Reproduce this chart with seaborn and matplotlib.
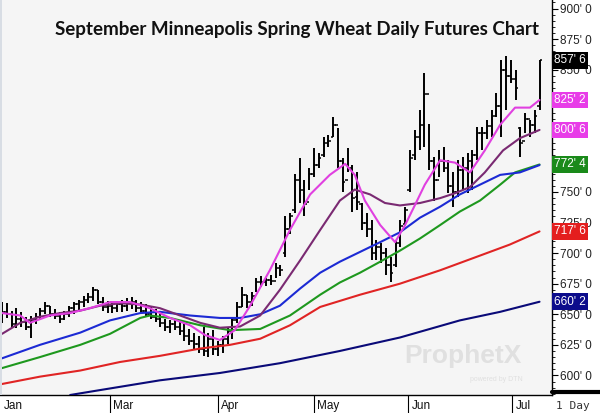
import matplotlib
matplotlib.use("Agg")
import matplotlib.pyplot as plt
import seaborn as sns
import pandas as pd
from matplotlib.lines import Line2D
from matplotlib.patches import Rectangle

# daily bars (bar index 0..112), prices in cents
opens = [655, 652, 650, 642, 646, 644, 640, 645, 648, 653, 657, 650, 649, 646, 650, 655, 658, 660, 662, 664,
         670, 660, 656, 657, 655, 658, 657, 659, 660, 655, 653, 650, 648, 646, 643, 640, 642, 640, 636, 632,
         628, 626, 622, 620, 630, 622, 625, 630, 636, 645, 656, 666, 660, 665, 676, 676, 678, 677, 688, 700,
         720, 735, 760, 752, 742, 765, 772, 780, 790, 795, 805, 775, 760, 770, 746, 740, 725, 720, 700, 705,
         700, 690, 690, 708, 724, 752, 780, 795, 805, 830, 775, 760, 775, 770, 755, 750, 768, 770, 775, 780,
         798, 798, 804, 812, 820, 850, 845, 842, 802, 792, 810, 805, 820]
highs = [660, 659, 653, 655, 652, 648, 649, 651, 655, 660, 657, 654, 652, 653, 657, 660, 662, 665, 667, 672,
         670, 664, 661, 660, 661, 662, 663, 664, 662, 660, 658, 656, 654, 650, 646, 645, 646, 645, 642, 638,
         635, 632, 640, 635, 637, 628, 632, 640, 648, 660, 672, 666, 668, 680, 681, 680, 682, 692, 690, 730,
         733, 765, 778, 760, 770, 786, 782, 795, 797, 811, 802, 778, 786, 772, 766, 741, 733, 727, 711, 708,
         704, 697, 711, 727, 738, 784, 801, 817, 847, 806, 779, 784, 787, 776, 766, 776, 779, 782, 784, 803,
         803, 809, 817, 831, 858, 861, 858, 850, 803, 815, 809, 817, 858]
lows = [643, 647, 639, 639, 640, 637, 631, 642, 645, 650, 648, 646, 643, 645, 648, 650, 652, 656, 659, 661,
        658, 653, 651, 651, 652, 652, 653, 654, 652, 650, 648, 646, 644, 640, 636, 635, 637, 633, 628, 625,
        622, 618, 616, 615, 617, 616, 618, 626, 630, 643, 656, 655, 657, 668, 672, 673, 674, 680, 681, 697,
        716, 733, 741, 730, 752, 762, 770, 779, 787, 795, 770, 750, 766, 734, 735, 719, 713, 694, 694, 692,
        682, 676, 689, 705, 722, 750, 776, 784, 787, 768, 743, 762, 766, 749, 738, 746, 752, 749, 752, 776,
        784, 793, 795, 811, 795, 817, 839, 825, 779, 798, 795, 798, 817]
closes = [652, 650, 642, 646, 644, 640, 645, 648, 653, 657, 650, 649, 646, 650, 655, 658, 660, 662, 664, 670,
          660, 656, 657, 655, 658, 657, 659, 660, 655, 653, 650, 648, 646, 643, 640, 642, 640, 636, 632, 628,
          626, 622, 620, 630, 622, 625, 630, 636, 645, 656, 666, 660, 665, 676, 676, 678, 677, 688, 686, 720,
          730, 760, 752, 740, 765, 772, 778, 790, 792, 805, 775, 758, 770, 745, 742, 725, 720, 700, 705, 700,
          690, 684, 708, 722, 735, 778, 795, 805, 830, 775, 760, 775, 770, 755, 750, 768, 770, 775, 780, 798,
          798, 804, 812, 820, 850, 845, 842, 835, 790, 810, 805, 812, 857.75]

# moving averages (bar index, price)
ma_fast_x = [0, 3.8, 5.8, 10, 14.2, 18.3, 22.5, 26.7, 30.8, 35, 39.2, 42.3, 45.4, 48.5, 51.7, 55.8, 60, 64.2,
             68.3, 71.5, 73.5, 75.6, 78.8, 81.9, 84, 86, 88.1, 91.3, 94.4, 97.5, 100.6, 103.8, 106.9, 110, 112]
ma_fast_y = [651, 649, 643, 649, 651, 655, 660, 660, 655, 647, 641, 633, 629, 637, 657, 686, 719, 748,
             764, 773, 764, 743, 723, 709, 723, 739, 756, 776, 774, 766, 784, 805, 819, 819, 825.25]
ma_mid_x = [0, 3.8, 7.9, 12.1, 16.3, 20.4, 24.6, 28.8, 32.9, 37.1, 41.3, 45.4, 49.6, 53.8, 57.9, 62.1, 66.3,
            70.4, 73.5, 76.7, 79.8, 82.9, 87.1, 91.3, 94.4, 97.5, 100.6, 104.4, 107.9, 112]
ma_mid_y = [634, 643, 648, 651, 653, 657, 659, 658, 655, 649, 643, 639, 640, 649, 670, 694, 719,
            743, 752, 748, 741, 739, 741, 745, 749, 754, 766, 784, 794, 800.75]
ma_blue_x = [0, 7.9, 16.3, 22.5, 28.8, 32.9, 39.2, 45.4, 49.6, 53.8, 57.9, 62.1, 66.3, 70.4, 74.6, 78.8,
             82.9, 87.1, 91.3, 95.4, 99.6, 103.8, 107.9, 112]
ma_blue_y = [614, 625, 635, 645, 651, 652, 649, 647, 647, 650, 657, 671, 684, 693, 701, 709,
             717, 729, 738, 748, 756, 764, 766, 772]
ma_green_x = [0, 7.9, 16.3, 22.5, 28.8, 30.8, 35, 41.3, 47.5, 53.8, 60, 66.3, 70.4, 74.6, 78.8, 82.9,
              87.1, 91.3, 95.4, 99.6, 103.8, 106.9, 112]
ma_green_y = [606, 615, 625, 634, 647, 649, 647, 641, 637, 638, 649, 666, 676, 684, 693, 702,
              712, 723, 734, 743, 756, 766, 772.5]
ma_red_x = [0, 7.9, 16.3, 24.6, 32.9, 41.3, 47.5, 53.8, 60, 66.3, 74.6, 82.9, 91.3, 99.6, 105.8, 112]
ma_red_y = [593, 599, 604, 611, 616, 622, 625, 630, 641, 656, 666, 675, 686, 698, 707, 717.75]
ma_navy_x = [14.2, 20.4, 32.9, 45.4, 57.9, 70.4, 82.9, 95.4, 103.8, 112]
ma_navy_y = [584, 588, 596, 602, 610, 620, 631, 645, 652, 660.25]

month_labels = ["Jan", "Mar", "Apr", "May", "Jun", "Jul"]
month_pos = [-0.3, 22.5, 45, 65, 84.6, 106.3]

price_ticks = list(range(600, 901, 25))
hidden_ticks = [775, 800, 825]  # covered by the value tags
last_labels = ["857' 6", "825' 2", "800' 6", "772' 4", "717' 6", "660' 2"]
last_values = [857.75, 825.25, 800.75, 772.5, 717.75, 660.25]
last_colors = ["#000000", "#e83ce8", "#e83ce8", "#1a8a1a", "#e41e1e", "#0c0c8c"]

sns.set_style("white")
plt.rcParams['font.family'] = ['Liberation Sans', 'DejaVu Sans']

fig = plt.figure(figsize=(6, 4.13), dpi=100)
ax = fig.add_axes([0.0, 0.0436, 0.92, 0.9564])
ax.set_facecolor("#f5f5f5")

# OHLC bars
idx = list(range(len(closes)))
ax.vlines(idx, lows, highs, color="black", lw=1.4, zorder=3)
ax.hlines(opens, [i - 0.55 for i in idx], idx, color="black", lw=1.1, zorder=3)
ax.hlines(closes, idx, [i + 0.55 for i in idx], color="black", lw=1.1, zorder=3)

ma_sets = [
    (ma_navy_x, ma_navy_y, "#0a0a78"),
    (ma_red_x, ma_red_y, "#e02424"),
    (ma_green_x, ma_green_y, "#1e981e"),
    (ma_blue_x, ma_blue_y, "#1c2ad4"),
    (ma_mid_x, ma_mid_y, "#7a2a72"),
    (ma_fast_x, ma_fast_y, "#e040e0"),
]
for xs, ys, col in ma_sets:
    sns.lineplot(x=xs, y=ys, ax=ax, color=col, lw=1.5, zorder=4, sort=False)

ax.set_xlim(-0.42, 114.6)
ax.set_ylim(584, 907)

# right price axis
ax.yaxis.tick_right()
ax.set_yticks(price_ticks)
ax.set_yticklabels(["" if p in hidden_ticks else f"{p}' 0" for p in price_ticks], fontsize=8.5, color="#222222")
ax.set_yticks(range(585, 906, 5), minor=True)
ax.tick_params(axis="y", which="major", length=4, width=0.8, color="black", pad=2, right=True)
ax.tick_params(axis="y", which="minor", length=2, width=0.6, color="black", right=True)

# month ticks along the bottom
ax.set_xticks(month_pos[1:])
ax.set_xticklabels([])
ax.tick_params(axis="x", length=13, width=0.8, color="black", direction="out", bottom=True)
for lab, pos in zip(month_labels, month_pos):
    ax.text(pos + 0.7, -0.012, lab, transform=ax.get_xaxis_transform(), ha="left", va="top",
            fontsize=8.5, color="#111111")

for side in ["top", "left"]:
    ax.spines[side].set_visible(False)
ax.spines["bottom"].set_color("black")
ax.spines["bottom"].set_linewidth(1)
ax.spines["right"].set_color("black")
ax.spines["right"].set_linewidth(1)

# last-value tags on the price axis
for lab, val, col in zip(last_labels, last_values, last_colors):
    ax.text(1.004, val, lab, transform=ax.get_yaxis_transform(), ha="left", va="center",
            fontsize=8.5, color="white", zorder=10, clip_on=False,
            bbox=dict(boxstyle="square,pad=0.2", fc=col, ec="none"))

# left edge strip and right bottom bar
fig.add_artist(Rectangle((0, 0.0436), 0.004, 0.96, transform=fig.transFigure, fc="#d8dde4", ec="none"))
fig.add_artist(Line2D([0.92, 1.0], [0.052, 0.052], transform=fig.transFigure, color="black", lw=3))
fig.text(0.927, 0.018, "1 Day", fontsize=8, family="DejaVu Sans Mono", color="#333333", va="center")

# watermark
ax.text(96, 616, "ProphetX", fontsize=19, fontweight="bold", color="#e0e0e0", ha="center", va="center", zorder=1)
ax.text(103, 597, "powered by DTN", fontsize=5, color="#e0e0e0", ha="center", va="center", zorder=1)

ax.text(0.538, 0.925, "September Minneapolis Spring Wheat Daily Futures Chart", transform=ax.transAxes,
        ha="center", va="center", fontsize=13.5, fontweight="bold", family=["Lato", "DejaVu Sans"],
        color="#111111")

fig.savefig("out.png", dpi=100)
